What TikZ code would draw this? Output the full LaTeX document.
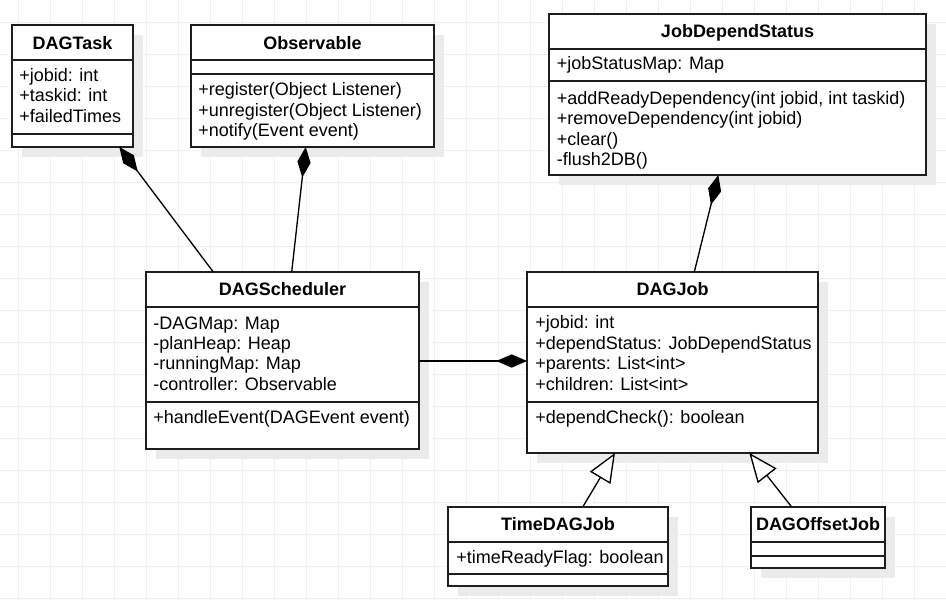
\documentclass[tikz,border=0pt]{standalone}
\usepackage{fontspec}
\setmainfont{Liberation Sans}
\usetikzlibrary{arrows.meta,shadows}
\definecolor{gridc}{HTML}{F0F0F0}
\definecolor{shadc}{HTML}{EBEBEB}
\definecolor{linec}{HTML}{1E1E1E}
\tikzset{
  classbox/.style={draw=linec, line width=1.1pt, fill=white, rectangle, inner sep=0pt, outer sep=0pt,
    drop shadow={shadow xshift=7.5pt, shadow yshift=-7.5pt, fill=shadc, opacity=1}},
  title/.style={font=\fontsize{13.5}{16}\selectfont\bfseries, inner sep=0pt, text height=10pt, text depth=3.4pt},
  member/.style={font=\fontsize{13.5}{16}\selectfont, anchor=west, inner sep=0pt, text height=10pt, text depth=3.4pt, yshift=-1.5pt},
  sepline/.style={draw=linec, line width=1.1pt},
  comp/.style={draw=black, line width=1pt, -{Diamond[length=23pt,width=10pt]}},
  gen/.style={draw=black, line width=1pt, -{Triangle[open,length=21.7pt,width=17.8pt,fill=white]}},
  gridline/.style={draw=gridc, line width=0.75pt}
}
\begin{document}
\begin{tikzpicture}[x=0.75pt,y=-0.75pt]
\useasboundingbox (0,0) rectangle (946,600);
\fill[white] (0,0) rectangle (946,600);
\foreach \gx in {18.3,50.3,...,946} {\draw[gridline] (\gx,0) -- (\gx,600);}
\foreach \gy in {22.7,54.7,...,600} {\draw[gridline] (0,\gy) -- (946,\gy);}

% ---- class boxes
\node[classbox, minimum width=90.75pt, minimum height=91.5pt] (dagtask) at (72.5,86) {};
\node[classbox, minimum width=182.25pt, minimum height=91.5pt] (observable) at (312.5,86) {};
\node[classbox, minimum width=282.75pt, minimum height=120.75pt] (jobdepend) at (737.5,94.5) {};
\node[classbox, minimum width=204.75pt, minimum height=132.75pt] (dagscheduler) at (282.5,360.5) {};
\node[classbox, minimum width=218.25pt, minimum height=135.75pt] (dagjob) at (672.5,362.5) {};
\node[classbox, minimum width=165pt, minimum height=59.25pt] (timedagjob) at (558,546.5) {};
\node[classbox, minimum width=100.5pt, minimum height=45.75pt] (offsetjob) at (818,537.5) {};

% ---- compartment separators
\draw[sepline] (dagtask.west |- 0,60) -- (dagtask.east |- 0,60);
\draw[sepline] (dagtask.west |- 0,134) -- (dagtask.east |- 0,134);
\draw[sepline] (observable.west |- 0,60) -- (observable.east |- 0,60);
\draw[sepline] (observable.west |- 0,74) -- (observable.east |- 0,74);
\draw[sepline] (jobdepend.west |- 0,49) -- (jobdepend.east |- 0,49);
\draw[sepline] (jobdepend.west |- 0,81) -- (jobdepend.east |- 0,81);
\draw[sepline] (dagscheduler.west |- 0,307) -- (dagscheduler.east |- 0,307);
\draw[sepline] (dagscheduler.west |- 0,402) -- (dagscheduler.east |- 0,402);
\draw[sepline] (dagjob.west |- 0,307) -- (dagjob.east |- 0,307);
\draw[sepline] (dagjob.west |- 0,402) -- (dagjob.east |- 0,402);
\draw[sepline] (timedagjob.west |- 0,542) -- (timedagjob.east |- 0,542);
\draw[sepline] (timedagjob.west |- 0,574) -- (timedagjob.east |- 0,574);
\draw[sepline] (offsetjob.west |- 0,542) -- (offsetjob.east |- 0,542);
\draw[sepline] (offsetjob.west |- 0,556) -- (offsetjob.east |- 0,556);

% ---- texts
\node[title] (t-dagtask) at (72.5,45) {DAGTask};
\node[member] (m-dagtask1) at (19,75) {+jobid: int};
\node[member] (m-dagtask2) at (19,95.5) {+taskid: int};
\node[member] (m-dagtask3) at (19,116) {+failedTimes};

\node[title] (t-observable) at (312.5,45) {Observable};
\node[member] (m-obs1) at (198,89.3) {+register(Object Listener)};
\node[member] (m-obs2) at (198,109.8) {+unregister(Object Listener)};
\node[member] (m-obs3) at (198,130.3) {+notify(Event event)};

\node[title] (t-jobdepend) at (737.5,33.5) {JobDependStatus};
\node[member] (m-jds1) at (556.5,63.5) {+jobStatusMap: Map};
\node[member] (m-jds2) at (556.5,98) {+addReadyDependency(int jobid, int taskid)};
\node[member] (m-jds3) at (556.5,118.3) {+removeDependency(int jobid)};
\node[member] (m-jds4) at (556.5,138.6) {+clear()};
\node[member] (m-jds5) at (556.5,158.9) {-flush2DB()};

\node[title] (t-dagscheduler) at (282.5,291.5) {DAGScheduler};
\node[member] (m-ds1) at (153,322.7) {-DAGMap: Map};
\node[member] (m-ds2) at (153,343) {-planHeap: Heap};
\node[member] (m-ds3) at (153,363.5) {-runningMap: Map};
\node[member] (m-ds4) at (153,384) {-controller: Observable};
\node[member] (m-ds5) at (153,417) {+handleEvent(DAGEvent event)};

\node[title] (t-dagjob) at (672.5,291.5) {DAGJob};
\node[member] (m-dj1) at (535,322.5) {+jobid: int};
\node[member] (m-dj2) at (535,343) {+dependStatus: JobDependStatus};
\node[member] (m-dj3) at (535,363.4) {+parents: List<int>};
\node[member] (m-dj4) at (535,383.8) {+children: List<int>};
\node[member] (m-dj5) at (535,417) {+dependCheck(): boolean};

\node[title] (t-timedagjob) at (558,526.5) {TimeDAGJob};
\node[member] (m-tdj1) at (456,556.7) {+timeReadyFlag: boolean};

\node[title] (t-offsetjob) at (818,526.5) {DAGOffsetJob};

% ---- connectors
\draw[comp] (dagscheduler.north -| 213.3,0) -- (dagtask.south -| 119.3,0);
\draw[comp] (dagscheduler.north -| 291.7,0) -- (observable.south -| 305.7,0);
\draw[comp] (dagjob.north -| 694.3,0) -- (jobdepend.south -| 718.3,0);
\draw[comp] (dagscheduler.east |- 0,361) -- (dagjob.west |- 0,361);
\draw[gen] (timedagjob.north -| 582.7,0) -- (dagjob.south -| 615,0);
\draw[gen] (offsetjob.north -| 791.7,0) -- (dagjob.south -| 749.3,0);
\end{tikzpicture}
\end{document}
